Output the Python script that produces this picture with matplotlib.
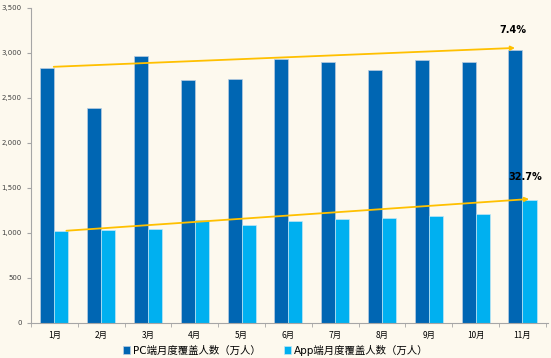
import matplotlib.pyplot as plt
import numpy as np
from matplotlib.ticker import FuncFormatter

plt.rcParams['font.family'] = ['DejaVu Sans', 'Noto Sans CJK SC']

months = ['1月', '2月', '3月', '4月', '5月', '6月', '7月', '8月', '9月', '10月', '11月']
pc_users = [2830, 2390, 2965, 2700, 2710, 2935, 2900, 2810, 2925, 2900, 3035]
app_users = [1025, 1037, 1048, 1145, 1090, 1137, 1152, 1167, 1193, 1211, 1362]
pc_growth = '7.4%'
app_growth = '32.7%'

bg = '#FDF9EE'
fig = plt.figure(figsize=(5.51, 3.58), dpi=100, facecolor=bg)
ax = fig.add_axes([0.056, 0.098, 0.939, 0.88], facecolor=bg)

x = np.arange(len(months))
w = 0.3
ax.bar(x - w / 2, pc_users, w, color='#0066B3', edgecolor='#B9CCE0', linewidth=0.5,
       label='PC端月度覆盖人数（万人）')
ax.bar(x + w / 2, app_users, w, color='#00B0F0', edgecolor='#BFE6F5', linewidth=0.5,
       label='App端月度覆盖人数（万人）')

# trend arrows
arrow = dict(arrowstyle='-|>', color='#FFC000', lw=1.3, mutation_scale=6)
ax.annotate('', xy=(9.9, pc_users[-1] * 1.007), xytext=(-0.07, pc_users[0] * 1.005),
            arrowprops=arrow)
ax.annotate('', xy=(10.2, app_users[-1] * 1.012), xytext=(0.2, app_users[0] * 0.997),
            arrowprops=arrow)
ax.text(9.8, 3250, pc_growth, fontsize=7, fontweight='bold', ha='center', va='center')
ax.text(10.05, 1620, app_growth, fontsize=7, fontweight='bold', ha='center', va='center')

ax.set_xlim(-0.45, 10.55)
ax.set_ylim(0, 3500)
ax.set_yticks(np.arange(0, 3501, 500))
ax.yaxis.set_major_formatter(FuncFormatter(lambda v, p: f'{int(v):,}'))
ax.set_xticks(x)
ax.set_xticklabels(months, family=['Noto Sans CJK SC', 'DejaVu Sans'])
ax.set_xticks(np.arange(-0.5, 10.6, 1), minor=True)
ax.tick_params(axis='x', which='major', length=0, labelsize=6, pad=6)
ax.tick_params(axis='x', which='minor', length=3, color='#A6A6A6')
ax.tick_params(axis='y', labelsize=5, length=3, color='#A6A6A6', labelcolor='#404040')

for s in ['top', 'right']:
    ax.spines[s].set_visible(False)
for s in ['left', 'bottom']:
    ax.spines[s].set_color('#A6A6A6')
    ax.spines[s].set_linewidth(0.8)

leg = fig.legend(loc='lower center', bbox_to_anchor=(0.5, -0.02), ncol=2, frameon=False,
                 prop={'family': ['DejaVu Sans', 'Noto Sans CJK SC'], 'size': 7.5},
                 handlelength=0.7, handleheight=0.7, handletextpad=0.3, columnspacing=2.2)

fig.savefig('out.png', dpi=100, facecolor=bg)
